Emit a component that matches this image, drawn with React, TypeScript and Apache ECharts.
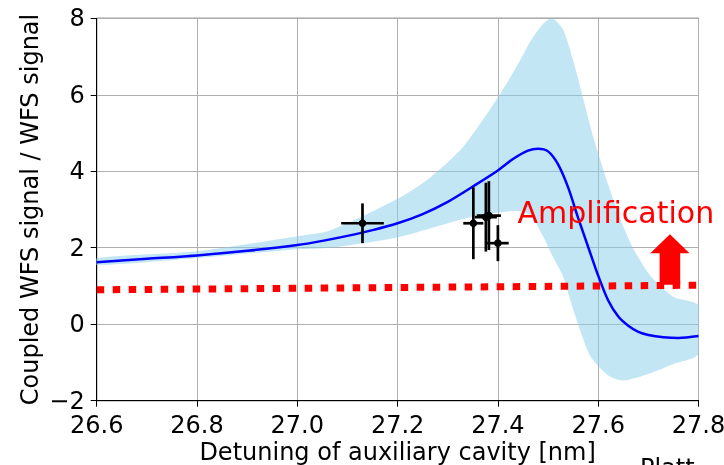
import { useEffect, useRef } from "react";
import * as echarts from "echarts";

// ---- data ----
const xTickValues = [26.6, 26.8, 27.0, 27.2, 27.4, 27.6, 27.8];
const yTickValues = [-2, 0, 2, 4, 6, 8];

const modelX = [26.6, 26.7, 26.8, 26.9, 27.0, 27.05, 27.1, 27.15, 27.2, 27.25, 27.3, 27.35, 27.4, 27.43, 27.46, 27.48, 27.5, 27.52, 27.54, 27.56, 27.58, 27.6, 27.62, 27.64, 27.66, 27.68, 27.7, 27.73, 27.76, 27.8];
const modelY = [1.62, 1.71, 1.8, 1.92, 2.07, 2.18, 2.31, 2.46, 2.64, 2.88, 3.2, 3.6, 4.02, 4.32, 4.54, 4.59, 4.52, 4.18, 3.58, 2.78, 2.02, 1.27, 0.62, 0.2, -0.04, -0.2, -0.28, -0.34, -0.36, -0.31];

const bandUpperX = [26.6, 26.8, 27.0, 27.065, 27.2, 27.265, 27.33, 27.4, 27.44, 27.465, 27.49, 27.508, 27.53, 27.55, 27.57, 27.59, 27.61, 27.625, 27.645, 27.67, 27.705, 27.75, 27.8];
const bandUpperY = [1.73, 1.91, 2.3, 2.45, 3.28, 3.84, 4.63, 5.93, 6.8, 7.4, 7.85, 8.0, 7.7, 6.9, 5.9, 4.9, 4.05, 3.45, 2.72, 1.98, 1.25, 0.72, 0.49];
const bandLowerX = [26.6, 26.8, 27.0, 27.065, 27.2, 27.265, 27.33, 27.4, 27.44, 27.465, 27.49, 27.51, 27.53, 27.545, 27.565, 27.585, 27.62, 27.65, 27.7, 27.75, 27.8];
const bandLowerY = [1.55, 1.73, 1.96, 2.0, 2.27, 2.5, 2.75, 2.92, 2.96, 2.85, 2.3, 1.75, 1.25, 0.6, -0.2, -0.85, -1.34, -1.47, -1.3, -1.04, -0.77];

const thresholdX = [26.6, 27.8];
const thresholdY = [0.9, 1.02];

const pointX = [27.13, 27.351, 27.376, 27.382, 27.4];
const pointY = [2.64, 2.64, 2.8, 2.84, 2.12];
const pointXErr = [0.0425, 0.02, 0.022, 0.024, 0.0215];
const pointYErr = [0.52, 0.94, 0.9, 0.9, 0.47];

const xTitle = "Detuning of auxiliary cavity [nm]";
const yTitle = "Coupled WFS signal / WFS signal";
const amplificationText = "Amplification";
const amplificationAt = [27.439, 2.93];
const arrowX = 27.743;
const arrowFrom = 1.03;
const arrowTo = 2.35;
const cutText = "Platt";

const FONT = "DejaVu Sans";

export default function App() {
  const ref = useRef<HTMLDivElement>(null);

  useEffect(() => {
    const chart = echarts.init(ref.current!, null, { renderer: "svg" });

    const modelData = modelX.map((x, i) => [x, modelY[i]]);
    const thresholdData = thresholdX.map((x, i) => [x, thresholdY[i]]);
    const pointData = pointX.map((x, i) => [x, pointY[i], pointXErr[i], pointYErr[i]]);

    const option: any = {
      animation: false,
      grid: {
        left: 96.7,
        right: 25.5,
        top: 18.3,
        bottom: 64.3,
        containLabel: false,
        outerBoundsMode: "none",
        show: true,
        borderColor: "#000",
        borderWidth: 1,
        backgroundColor: "transparent",
      },
      xAxis: {
        type: "value",
        min: xTickValues[0],
        max: xTickValues[xTickValues.length - 1],
        interval: 0.2,
        name: xTitle,
        nameLocation: "middle",
        nameGap: 39,
        nameMoveOverlap: false,
        nameTextStyle: { fontSize: 24, color: "#000", fontFamily: FONT },
        axisLine: { show: true, onZero: false, lineStyle: { color: "#000", width: 1 } },
        axisTick: { show: true, inside: false, length: 6, lineStyle: { color: "#000", width: 1 } },
        axisLabel: { fontSize: 24, color: "#000", fontFamily: FONT, margin: 12, formatter: (v: number) => v.toFixed(1) },
        splitLine: { show: true, lineStyle: { color: "#b0b0b0", width: 1 } },
      },
      yAxis: {
        type: "value",
        min: yTickValues[0],
        max: yTickValues[yTickValues.length - 1],
        interval: 2,
        name: yTitle,
        nameLocation: "middle",
        nameGap: 55,
        nameMoveOverlap: false,
        nameTextStyle: { fontSize: 24, color: "#000", fontFamily: FONT },
        axisLine: { show: true, lineStyle: { color: "#000", width: 1 } },
        axisTick: { show: true, inside: false, length: 6, lineStyle: { color: "#000", width: 1 } },
        axisLabel: {
          fontSize: 24,
          color: "#000",
          fontFamily: FONT,
          margin: 12,
          formatter: (v: number) => (v < 0 ? "\u2212" + Math.abs(v) : String(v)),
        },
        splitLine: { show: true, lineStyle: { color: "#b0b0b0", width: 1 } },
      },
      series: [
        {
          type: "custom",
          name: "band",
          coordinateSystem: "cartesian2d",
          clip: true,
          z: 1,
          silent: true,
          data: [[bandUpperX[0], bandUpperY[0]]],
          renderItem: (_params: any, api: any) => {
            const pts: number[][] = [];
            bandUpperX.forEach((x, i) => pts.push(api.coord([x, bandUpperY[i]])));
            for (let i = bandLowerX.length - 1; i >= 0; i--) pts.push(api.coord([bandLowerX[i], bandLowerY[i]]));
            return {
              type: "polygon",
              shape: { points: pts, smooth: 0.25 },
              style: { fill: "#87ceeb", opacity: 0.5 },
            };
          },
        },
        {
          type: "line",
          name: "model",
          data: modelData,
          smooth: 0.3,
          showSymbol: false,
          symbol: "none",
          z: 3,
          lineStyle: { color: "#0000ff", width: 2.5 },
        },
        {
          type: "custom",
          name: "measurements",
          coordinateSystem: "cartesian2d",
          z: 4,
          data: pointData,
          renderItem: (_params: any, api: any) => {
            const x = api.value(0);
            const y = api.value(1);
            const xe = api.value(2);
            const ye = api.value(3);
            const c = api.coord([x, y]);
            const l = api.coord([x - xe, y]);
            const r = api.coord([x + xe, y]);
            const t = api.coord([x, y + ye]);
            const b = api.coord([x, y - ye]);
            const st = { stroke: "#000", lineWidth: 2.7, fill: "none" };
            return {
              type: "group",
              children: [
                { type: "line", shape: { x1: l[0], y1: l[1], x2: r[0], y2: r[1] }, style: st },
                { type: "line", shape: { x1: t[0], y1: t[1], x2: b[0], y2: b[1] }, style: st },
                { type: "circle", shape: { cx: c[0], cy: c[1], r: 3.8 }, style: { fill: "#000" } },
              ],
            };
          },
        },
        {
          type: "line",
          name: "threshold",
          data: thresholdData,
          showSymbol: false,
          symbol: "none",
          z: 5,
          lineStyle: { color: "#ff0000", width: 7, type: [7.5, 8.5], cap: "butt" },
        },
      ],
    };

    chart.setOption(option);

    const tip = chart.convertToPixel({ gridIndex: 0 }, [arrowX, arrowTo]) as number[];
    const base = chart.convertToPixel({ gridIndex: 0 }, [arrowX, arrowFrom]) as number[];
    const lab = chart.convertToPixel({ gridIndex: 0 }, amplificationAt) as number[];
    const headLen = 19;
    const headHalf = 19.6;
    const shaftHalf = 10.3;
    const cx = tip[0];
    const arrowPts = [
      [cx, tip[1]],
      [cx + headHalf, tip[1] + headLen],
      [cx + shaftHalf, tip[1] + headLen],
      [cx + shaftHalf, base[1]],
      [cx - shaftHalf, base[1]],
      [cx - shaftHalf, tip[1] + headLen],
      [cx - headHalf, tip[1] + headLen],
    ];

    chart.setOption({
      graphic: [
        {
          type: "text",
          x: lab[0],
          y: lab[1],
          z: 10,
          style: { text: amplificationText, fill: "#ff0000", fontSize: 30, fontFamily: FONT, align: "left", verticalAlign: "middle" },
        },
        {
          type: "polygon",
          z: 10,
          shape: { points: arrowPts },
          style: { fill: "#ff0000" },
        },
        {
          type: "text",
          x: 640,
          y: 456,
          z: 10,
          style: { text: cutText, fill: "#000", fontSize: 24, fontFamily: FONT, align: "left", verticalAlign: "top" },
        },
      ],
    });

    return () => chart.dispose();
  }, []);

  return <div ref={ref} style={{ position: "fixed", left: 0, top: 0, width: 724, height: 465 }} />;
}
